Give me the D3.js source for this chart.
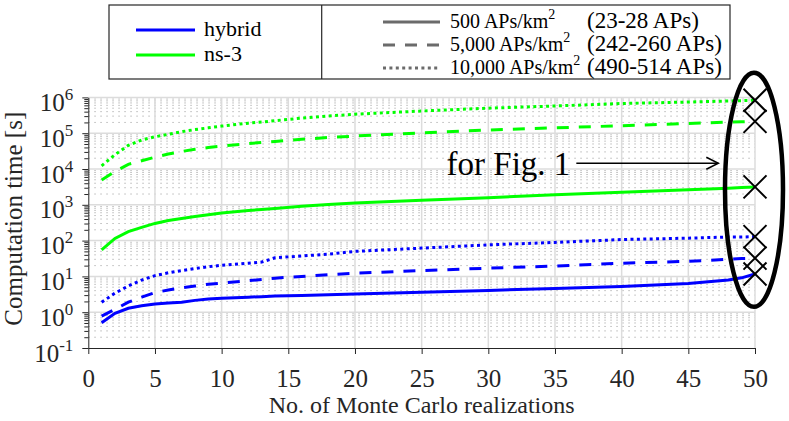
<!DOCTYPE html>
<html>
<head>
<meta charset="utf-8">
<script src="https://cdn.jsdelivr.net/npm/d3@7"></script>
<style>
    body { margin: 0; background: #fff; }
    svg { font-family: "Liberation Serif", "Times New Roman", serif; }
</style>
</head>
<body>
<div id="chart"></div>
<script>
// values (computation time in seconds)
const realizations = [1, 2, 3, 4, 5, 6, 7, 8, 9, 10, 12, 13, 14, 16, 18, 20, 25, 30, 35, 40, 45, 48, 49, 50];

const hybrid500 = [0.51, 0.93, 1.29, 1.51, 1.70, 1.82, 1.91, 2.14, 2.34, 2.45, 2.63, 2.72, 2.82, 2.95, 3.09, 3.24, 3.63, 4.07, 4.57, 5.25, 6.31, 7.94, 9.12, 11.7];
const hybrid5000 = [0.78, 1.2, 1.9, 2.63, 3.55, 4.17, 4.79, 5.37, 6.03, 6.46, 7.59, 8.2, 8.91, 10.0, 11.2, 12.3, 14.5, 17.0, 19.5, 23.4, 26.3, 30.2, 31.6, 32.4];
const hybrid10000 = [1.9, 3.4, 5.4, 7.9, 10.5, 12.6, 14.5, 16.6, 18.6, 20.4, 23.4, 25.1, 33.1, 37.2, 41.7, 50.0, 61.7, 75.9, 89.1, 107, 117, 126, 126, 129];

const ns3_500 = [55, 115, 178, 234, 302, 363, 417, 468, 525, 589, 692, 741, 794, 912, 1023, 1122, 1349, 1585, 1905, 2239, 2630, 2884, 3020, 3162];
const ns3_5000 = [4900, 8510, 13500, 17000, 21400, 26300, 30900, 35500, 39800, 43700, 51300, 55000, 58900, 67600, 75900, 83200, 102000, 123000, 141000, 162000, 186000, 204000, 209000, 214000];
const ns3_10000 = [12300, 25100, 45700, 64600, 79400, 93300, 110000, 126000, 141000, 158000, 191000, 204000, 224000, 263000, 302000, 339000, 417000, 501000, 575000, 676000, 741000, 794000, 813000, 832000];

const xTicks = [0, 5, 10, 15, 20, 25, 30, 35, 40, 45, 50];
const yExponents = [-1, 0, 1, 2, 3, 4, 5, 6];

const simLabels = ["hybrid", "ns-3"];
const densityLabels = ["500 APs/km", "5,000 APs/km", "10,000 APs/km"];
const apCountLabels = ["(23-28 APs)", "(242-260 APs)", "(490-514 APs)"];

const BLUE = "#0000ff", GREEN = "#00ff00", AXIS = "#262626";
const DASHES = [null, "12,10", "3,3.4"];

const series = [
    { values: hybrid500, color: BLUE, dash: DASHES[0] },
    { values: hybrid5000, color: BLUE, dash: DASHES[1] },
    { values: hybrid10000, color: BLUE, dash: DASHES[2] },
    { values: ns3_500, color: GREEN, dash: DASHES[0] },
    { values: ns3_5000, color: GREEN, dash: DASHES[1] },
    { values: ns3_10000, color: GREEN, dash: DASHES[2] }
];

const width = 789, height = 421;
const margin = { left: 88.3, right: 34, top: 97.4, bottom: 73 };

const svg = d3.select("#chart").append("svg")
    .attr("width", width)
    .attr("height", height);

const x = d3.scaleLinear()
    .domain([0, 50])
    .range([margin.left, width - margin.right]);

const y = d3.scaleLog()
    .domain([0.1, 1e6])
    .range([height - margin.bottom, margin.top]);

// minor values 2..9 per decade
const minorValues = [];
yExponents.slice(0, -1).forEach(e => {
    for (let k = 2; k <= 9; k++) minorValues.push(k * Math.pow(10, e));
});

// grid
const grid = svg.append("g");
grid.selectAll(".minor")
    .data(minorValues)
    .enter().append("line")
    .attr("x1", x(0)).attr("x2", x(50))
    .attr("y1", d => y(d)).attr("y2", d => y(d))
    .attr("stroke", "#b8b8b8")
    .attr("stroke-width", 1)
    .attr("stroke-dasharray", "1.5,4.5");

grid.selectAll(".hmajor")
    .data(yExponents.slice(1))
    .enter().append("line")
    .attr("x1", x(0)).attr("x2", x(50))
    .attr("y1", d => y(Math.pow(10, d))).attr("y2", d => y(Math.pow(10, d)))
    .attr("stroke", "#dcdcdc")
    .attr("stroke-width", 1.5);

grid.selectAll(".vmajor")
    .data(xTicks.slice(1))
    .enter().append("line")
    .attr("x1", d => x(d)).attr("x2", d => x(d))
    .attr("y1", y(0.1)).attr("y2", y(1e6))
    .attr("stroke", "#dcdcdc")
    .attr("stroke-width", 1.5);

// curves
const line = d3.line()
    .x((d, i) => x(realizations[i]))
    .y(d => y(d));

svg.selectAll(".curve")
    .data(series)
    .enter().append("path")
    .attr("d", d => line(d.values))
    .attr("fill", "none")
    .attr("stroke", d => d.color)
    .attr("stroke-width", 3)
    .attr("stroke-dasharray", d => d.dash);

// axes
const xAxis = svg.append("g")
    .attr("transform", `translate(0,${y(0.1)})`)
    .call(d3.axisBottom(x).tickValues(xTicks).tickSize(6).tickSizeOuter(0));
xAxis.selectAll("text")
    .attr("dy", null)
    .attr("y", 39)
    .style("font-size", "25px");

const yMinor = svg.append("g")
    .attr("transform", `translate(${x(0)},0)`)
    .call(d3.axisLeft(y).tickValues(minorValues).tickSize(4).tickFormat(""));
yMinor.select(".domain").remove();

const yAxis = svg.append("g")
    .attr("transform", `translate(${x(0)},0)`)
    .call(d3.axisLeft(y)
        .tickValues(yExponents.map(e => Math.pow(10, e)))
        .tickSize(6).tickSizeOuter(0)
        .tickFormat(""));

yAxis.selectAll(".tick").append("text")
    .attr("x", -15)
    .attr("y", 13)
    .attr("fill", AXIS)
    .attr("text-anchor", "end")
    .style("font-size", "25px")
    .each(function (d) {
        const t = d3.select(this);
        t.append("tspan").text("10");
        t.append("tspan")
            .attr("dy", -11)
            .style("font-size", "17px")
            .text(Math.round(Math.log10(d)));
    });

[xAxis, yAxis, yMinor].forEach(g => {
    g.selectAll("path, line").attr("stroke", AXIS);
    g.selectAll("text").attr("fill", AXIS).style("font-family", "Liberation Serif");
});

// axis titles
svg.append("text")
    .attr("x", (x(0) + x(50)) / 2)
    .attr("y", 413)
    .attr("text-anchor", "middle")
    .attr("fill", AXIS)
    .style("font-size", "24px")
    .text("No. of Monte Carlo realizations");

svg.append("text")
    .attr("transform", `translate(22,${(y(0.1) + y(1e6)) / 2 - 4}) rotate(-90)`)
    .attr("text-anchor", "middle")
    .attr("fill", AXIS)
    .style("font-size", "25px")
    .text("Computation time [s]");

// markers at the last realization
const lastIdx = realizations.length - 1;
const cross = d3.symbol(d3.symbolTimes, 11.5 * 11.5 / (0.6189 * 0.6189) + 1.7);
svg.selectAll(".mark")
    .data(series)
    .enter().append("path")
    .attr("transform", d => `translate(${x(realizations[lastIdx])},${y(d.values[lastIdx])})`)
    .attr("d", cross)
    .attr("fill", "none")
    .attr("stroke", "#000")
    .attr("stroke-width", 2);

// ellipse and "for Fig. 1" annotation
const ellX0 = x(47.75), ellX1 = x(52.1);
const ellY0 = y(Math.pow(10, 6.69)), ellY1 = y(Math.pow(10, 0.15));
svg.append("ellipse")
    .attr("cx", (ellX0 + ellX1) / 2)
    .attr("cy", (ellY0 + ellY1) / 2)
    .attr("rx", (ellX1 - ellX0) / 2)
    .attr("ry", (ellY1 - ellY0) / 2)
    .attr("fill", "none")
    .attr("stroke", "#000")
    .attr("stroke-width", 4.5);

const arrowY = y(Math.pow(10, 4.16));
const ax0 = x(36.6), ax1 = x(47.25);
svg.append("line")
    .attr("x1", ax0).attr("x2", ax1)
    .attr("y1", arrowY).attr("y2", arrowY)
    .attr("stroke", "#000")
    .attr("stroke-width", 1.5);
svg.append("path")
    .attr("d", `M${ax1 - 12},${arrowY - 6}L${ax1},${arrowY}L${ax1 - 12},${arrowY + 6}`)
    .attr("fill", "none")
    .attr("stroke", "#000")
    .attr("stroke-width", 1.5);

svg.append("text")
    .attr("x", x(36.15))
    .attr("y", arrowY + 12)
    .attr("text-anchor", "end")
    .style("font-size", "33px")
    .text("for Fig. 1");

// legend
const legend = svg.append("g");
legend.append("rect")
    .attr("x", 109).attr("y", 5)
    .attr("width", 621).attr("height", 74)
    .attr("fill", "#fff")
    .attr("stroke", AXIS)
    .attr("stroke-width", 1.2);
legend.append("line")
    .attr("x1", 321.7).attr("x2", 321.7)
    .attr("y1", 5).attr("y2", 79)
    .attr("stroke", AXIS)
    .attr("stroke-width", 1.2);

const simRows = legend.selectAll(".sim")
    .data(simLabels)
    .enter().append("g")
    .attr("transform", (d, i) => `translate(0,${30 + i * 25})`);
simRows.append("line")
    .attr("x1", 136).attr("x2", 195)
    .attr("stroke", (d, i) => [BLUE, GREEN][i])
    .attr("stroke-width", 3);
simRows.append("text")
    .attr("x", 204).attr("y", 6)
    .attr("fill", "#000")
    .style("font-size", "22px")
    .text(d => d);

const denRows = legend.selectAll(".den")
    .data(densityLabels)
    .enter().append("g")
    .attr("transform", (d, i) => `translate(0,${22 + i * 23})`);
denRows.append("line")
    .attr("x1", 383).attr("x2", 440)
    .attr("stroke", "#6b6b6b")
    .attr("stroke-width", 3)
    .attr("stroke-dasharray", (d, i) => DASHES[i]);
denRows.append("text")
    .attr("x", 450).attr("y", 6)
    .attr("fill", "#000")
    .style("font-size", "20px")
    .each(function (d) {
        const t = d3.select(this);
        t.append("tspan").text(d);
        t.append("tspan").attr("dy", -9).style("font-size", "14px").text("2");
    });
denRows.append("text")
    .attr("x", 587).attr("y", 6)
    .attr("fill", "#000")
    .style("font-size", "23px")
    .text((d, i) => apCountLabels[i]);
</script>
</body>
</html>
